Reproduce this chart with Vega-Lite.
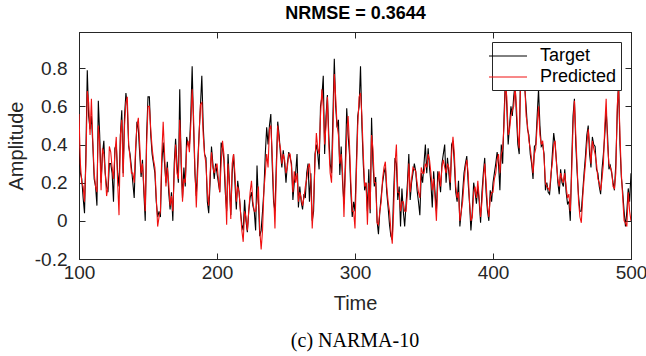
{
"$schema": "https://vega.github.io/schema/vega-lite/v6.json",
"autosize": "none",
"padding": {"left": 79, "top": 32, "right": 15, "bottom": 97},
"width": 552,
"height": 227,
"background": "white",
"config": {
  "font": "Liberation Sans",
  "view": {"stroke": "#262626", "strokeWidth": 1},
  "axis": {"grid": false, "domainColor": "#262626", "tickColor": "#262626", "labelColor": "#262626", "titleColor": "#262626", "labelFont": "Liberation Sans", "titleFont": "Liberation Sans", "labelFontSize": 19, "titleFontSize": 20, "titleFontWeight": "normal", "tickSize": -6, "domainWidth": 1, "tickWidth": 1, "labelFlush": false, "labelOverlap": false}
},
"title": {"text": "(c) NARMA-10", "orient": "bottom", "font": "Liberation Serif", "fontSize": 20, "fontWeight": "normal", "color": "#000000", "anchor": "middle", "frame": "group", "offset": 18},
"data": {"values": [
{"t":100,"Target":0.38,"Predicted":0.56},{"t":101,"Target":0.25,"Predicted":0.30},{"t":102,"Target":0.22,"Predicted":0.20},{"t":103,"Target":0.12,"Predicted":0.18},{"t":104,"Target":0.04,"Predicted":0.10},{"t":105,"Target":0.35,"Predicted":0.30},{"t":106,"Target":0.79,"Predicted":0.68},{"t":107,"Target":0.55,"Predicted":0.62},{"t":108,"Target":0.48,"Predicted":0.45},{"t":109,"Target":0.55,"Predicted":0.64},
{"t":110,"Target":0.40,"Predicted":0.42},{"t":111,"Target":0.22,"Predicted":0.25},{"t":112,"Target":0.18,"Predicted":0.18},{"t":113,"Target":0.08,"Predicted":0.15},{"t":114,"Target":0.63,"Predicted":0.50},{"t":115,"Target":0.45,"Predicted":0.40},{"t":116,"Target":0.20,"Predicted":0.16},{"t":117,"Target":0.35,"Predicted":0.38},{"t":118,"Target":0.42,"Predicted":0.35},{"t":119,"Target":0.25,"Predicted":0.25},
{"t":120,"Target":0.18,"Predicted":0.13},{"t":121,"Target":0.15,"Predicted":0.18},{"t":122,"Target":0.30,"Predicted":0.39},{"t":123,"Target":0.30,"Predicted":0.36},{"t":124,"Target":0.25,"Predicted":0.28},{"t":125,"Target":0.10,"Predicted":0.22},{"t":126,"Target":0.38,"Predicted":0.35},{"t":127,"Target":0.40,"Predicted":0.44},{"t":128,"Target":0.25,"Predicted":0.20},{"t":129,"Target":0.18,"Predicted":0.03},
{"t":130,"Target":0.45,"Predicted":0.45},{"t":131,"Target":0.58,"Predicted":0.53},{"t":132,"Target":0.25,"Predicted":0.23},{"t":133,"Target":0.55,"Predicted":0.50},{"t":134,"Target":0.67,"Predicted":0.62},{"t":135,"Target":0.60,"Predicted":0.65},{"t":136,"Target":0.39,"Predicted":0.40},{"t":137,"Target":0.35,"Predicted":0.33},{"t":138,"Target":0.28,"Predicted":0.25},{"t":139,"Target":0.20,"Predicted":0.25},
{"t":140,"Target":0.12,"Predicted":0.20},{"t":141,"Target":0.35,"Predicted":0.38},{"t":142,"Target":0.52,"Predicted":0.50},{"t":143,"Target":0.48,"Predicted":0.54},{"t":144,"Target":0.35,"Predicted":0.40},{"t":145,"Target":0.23,"Predicted":0.25},{"t":146,"Target":0.32,"Predicted":0.30},{"t":147,"Target":0.15,"Predicted":0.18},{"t":148,"Target":0.00,"Predicted":0.05},{"t":149,"Target":0.45,"Predicted":0.40},
{"t":150,"Target":0.65,"Predicted":0.60},{"t":151,"Target":0.65,"Predicted":0.60},{"t":152,"Target":0.45,"Predicted":0.48},{"t":153,"Target":0.35,"Predicted":0.38},{"t":154,"Target":0.30,"Predicted":0.32},{"t":155,"Target":0.25,"Predicted":0.28},{"t":156,"Target":0.10,"Predicted":0.12},{"t":157,"Target":0.02,"Predicted":-0.03},{"t":158,"Target":0.05,"Predicted":0.02},{"t":159,"Target":0.02,"Predicted":0.05},
{"t":160,"Target":0.30,"Predicted":0.35},{"t":161,"Target":0.41,"Predicted":0.52},{"t":162,"Target":0.30,"Predicted":0.35},{"t":163,"Target":0.20,"Predicted":0.18},{"t":164,"Target":0.31,"Predicted":0.28},{"t":165,"Target":0.15,"Predicted":0.20},{"t":166,"Target":0.06,"Predicted":0.08},{"t":167,"Target":0.15,"Predicted":0.13},{"t":168,"Target":0.00,"Predicted":0.05},{"t":169,"Target":0.30,"Predicted":0.25},
{"t":170,"Target":0.43,"Predicted":0.40},{"t":171,"Target":0.30,"Predicted":0.25},{"t":172,"Target":0.20,"Predicted":0.22},{"t":173,"Target":0.69,"Predicted":0.53},{"t":174,"Target":0.30,"Predicted":0.35},{"t":175,"Target":0.12,"Predicted":0.10},{"t":176,"Target":0.28,"Predicted":0.22},{"t":177,"Target":0.18,"Predicted":0.20},{"t":178,"Target":0.44,"Predicted":0.38},{"t":179,"Target":0.40,"Predicted":0.42},
{"t":180,"Target":0.39,"Predicted":0.36},{"t":181,"Target":0.55,"Predicted":0.50},{"t":182,"Target":0.81,"Predicted":0.69},{"t":183,"Target":0.50,"Predicted":0.55},{"t":184,"Target":0.25,"Predicted":0.28},{"t":185,"Target":0.13,"Predicted":0.07},{"t":186,"Target":0.30,"Predicted":0.25},{"t":187,"Target":0.45,"Predicted":0.45},{"t":188,"Target":0.60,"Predicted":0.61},{"t":189,"Target":0.76,"Predicted":0.62},
{"t":190,"Target":0.50,"Predicted":0.45},{"t":191,"Target":0.35,"Predicted":0.35},{"t":192,"Target":0.33,"Predicted":0.30},{"t":193,"Target":0.10,"Predicted":0.15},{"t":194,"Target":0.04,"Predicted":0.08},{"t":195,"Target":0.20,"Predicted":0.25},{"t":196,"Target":0.39,"Predicted":0.36},{"t":197,"Target":0.30,"Predicted":0.28},{"t":198,"Target":0.22,"Predicted":0.25},{"t":199,"Target":0.30,"Predicted":0.28},
{"t":200,"Target":0.25,"Predicted":0.30},{"t":201,"Target":0.20,"Predicted":0.22},{"t":202,"Target":0.15,"Predicted":0.15},{"t":203,"Target":0.41,"Predicted":0.30},{"t":204,"Target":0.38,"Predicted":0.42},{"t":205,"Target":0.32,"Predicted":0.35},{"t":206,"Target":0.15,"Predicted":0.20},{"t":207,"Target":0.05,"Predicted":-0.02},{"t":208,"Target":0.35,"Predicted":0.30},{"t":209,"Target":0.20,"Predicted":0.18},
{"t":210,"Target":0.03,"Predicted":0.01},{"t":211,"Target":0.25,"Predicted":0.30},{"t":212,"Target":0.35,"Predicted":0.35},{"t":213,"Target":0.20,"Predicted":0.25},{"t":214,"Target":0.06,"Predicted":0.10},{"t":215,"Target":0.21,"Predicted":0.18},{"t":216,"Target":0.15,"Predicted":0.15},{"t":217,"Target":0.05,"Predicted":0.05},{"t":218,"Target":-0.02,"Predicted":-0.05},{"t":219,"Target":-0.05,"Predicted":-0.11},
{"t":220,"Target":0.11,"Predicted":0.05},{"t":221,"Target":0.00,"Predicted":0.02},{"t":222,"Target":-0.06,"Predicted":-0.05},{"t":223,"Target":0.05,"Predicted":0.05},{"t":224,"Target":0.12,"Predicted":0.15},{"t":225,"Target":0.15,"Predicted":0.21},{"t":226,"Target":0.08,"Predicted":0.10},{"t":227,"Target":0.05,"Predicted":0.05},{"t":228,"Target":-0.05,"Predicted":0.05},{"t":229,"Target":0.29,"Predicted":0.10},
{"t":230,"Target":0.10,"Predicted":0.18},{"t":231,"Target":-0.08,"Predicted":-0.05},{"t":232,"Target":-0.05,"Predicted":-0.15},{"t":233,"Target":0.05,"Predicted":-0.05},{"t":234,"Target":0.16,"Predicted":0.16},{"t":235,"Target":0.35,"Predicted":0.25},{"t":236,"Target":0.49,"Predicted":0.35},{"t":237,"Target":0.40,"Predicted":0.28},{"t":238,"Target":0.50,"Predicted":0.48},{"t":239,"Target":0.56,"Predicted":0.50},
{"t":240,"Target":0.30,"Predicted":0.35},{"t":241,"Target":0.10,"Predicted":0.15},{"t":242,"Target":0.05,"Predicted":-0.04},{"t":243,"Target":0.30,"Predicted":0.25},{"t":244,"Target":0.52,"Predicted":0.50},{"t":245,"Target":0.45,"Predicted":0.42},{"t":246,"Target":0.35,"Predicted":0.38},{"t":247,"Target":0.28,"Predicted":0.30},{"t":248,"Target":0.37,"Predicted":0.35},{"t":249,"Target":0.30,"Predicted":0.32},
{"t":250,"Target":0.20,"Predicted":0.25},{"t":251,"Target":0.30,"Predicted":0.28},{"t":252,"Target":0.36,"Predicted":0.35},{"t":253,"Target":0.33,"Predicted":0.35},{"t":254,"Target":0.30,"Predicted":0.28},{"t":255,"Target":0.11,"Predicted":0.15},{"t":256,"Target":0.20,"Predicted":0.26},{"t":257,"Target":0.25,"Predicted":0.20},{"t":258,"Target":0.35,"Predicted":0.25},{"t":259,"Target":0.07,"Predicted":0.10},
{"t":260,"Target":0.18,"Predicted":0.15},{"t":261,"Target":0.10,"Predicted":0.12},{"t":262,"Target":0.06,"Predicted":0.08},{"t":263,"Target":0.14,"Predicted":0.12},{"t":264,"Target":0.12,"Predicted":0.18},{"t":265,"Target":0.25,"Predicted":0.22},{"t":266,"Target":0.30,"Predicted":0.28},{"t":267,"Target":0.10,"Predicted":0.30},{"t":268,"Target":0.25,"Predicted":0.20},{"t":269,"Target":0.00,"Predicted":-0.04},
{"t":270,"Target":0.05,"Predicted":0.10},{"t":271,"Target":0.35,"Predicted":0.30},{"t":272,"Target":0.40,"Predicted":0.46},{"t":273,"Target":0.35,"Predicted":0.38},{"t":274,"Target":0.27,"Predicted":0.35},{"t":275,"Target":0.60,"Predicted":0.55},{"t":276,"Target":0.65,"Predicted":0.69},{"t":277,"Target":0.76,"Predicted":0.60},{"t":278,"Target":0.35,"Predicted":0.40},{"t":279,"Target":0.55,"Predicted":0.50},
{"t":280,"Target":0.66,"Predicted":0.65},{"t":281,"Target":0.45,"Predicted":0.40},{"t":282,"Target":0.30,"Predicted":0.25},{"t":283,"Target":0.25,"Predicted":0.20},{"t":284,"Target":0.55,"Predicted":0.45},{"t":285,"Target":0.85,"Predicted":0.77},{"t":286,"Target":0.60,"Predicted":0.65},{"t":287,"Target":0.49,"Predicted":0.50},{"t":288,"Target":0.53,"Predicted":0.45},{"t":289,"Target":0.24,"Predicted":0.30},
{"t":290,"Target":0.39,"Predicted":0.35},{"t":291,"Target":0.20,"Predicted":0.25},{"t":292,"Target":0.09,"Predicted":0.02},{"t":293,"Target":0.30,"Predicted":0.25},{"t":294,"Target":0.59,"Predicted":0.45},{"t":295,"Target":0.45,"Predicted":0.55},{"t":296,"Target":0.35,"Predicted":0.40},{"t":297,"Target":0.15,"Predicted":0.20},{"t":298,"Target":0.02,"Predicted":0.05},{"t":299,"Target":0.10,"Predicted":0.05},
{"t":300,"Target":0.05,"Predicted":-0.04},{"t":301,"Target":0.30,"Predicted":0.25},{"t":302,"Target":0.55,"Predicted":0.50},{"t":303,"Target":0.60,"Predicted":0.65},{"t":304,"Target":0.81,"Predicted":0.67},{"t":305,"Target":0.50,"Predicted":0.55},{"t":306,"Target":0.30,"Predicted":0.35},{"t":307,"Target":0.16,"Predicted":0.18},{"t":308,"Target":0.20,"Predicted":0.20},{"t":309,"Target":0.05,"Predicted":-0.02},
{"t":310,"Target":0.27,"Predicted":0.20},{"t":311,"Target":0.04,"Predicted":0.06},{"t":312,"Target":0.54,"Predicted":0.45},{"t":313,"Target":0.30,"Predicted":0.38},{"t":314,"Target":0.18,"Predicted":0.20},{"t":315,"Target":0.23,"Predicted":0.20},{"t":316,"Target":0.00,"Predicted":-0.01},{"t":317,"Target":-0.07,"Predicted":-0.02},{"t":318,"Target":0.05,"Predicted":0.05},{"t":319,"Target":0.13,"Predicted":0.10},
{"t":320,"Target":0.20,"Predicted":0.22},{"t":321,"Target":0.25,"Predicted":0.28},{"t":322,"Target":0.28,"Predicted":0.31},{"t":323,"Target":0.15,"Predicted":0.18},{"t":324,"Target":0.07,"Predicted":0.10},{"t":325,"Target":-0.02,"Predicted":0.05},{"t":326,"Target":-0.08,"Predicted":-0.05},{"t":327,"Target":-0.10,"Predicted":-0.12},{"t":328,"Target":0.15,"Predicted":0.05},{"t":329,"Target":0.33,"Predicted":0.30},
{"t":330,"Target":0.30,"Predicted":0.40},{"t":331,"Target":0.11,"Predicted":0.15},{"t":332,"Target":0.18,"Predicted":0.15},{"t":333,"Target":-0.03,"Predicted":0.05},{"t":334,"Target":0.17,"Predicted":0.10},{"t":335,"Target":0.05,"Predicted":0.10},{"t":336,"Target":-0.03,"Predicted":0.05},{"t":337,"Target":0.09,"Predicted":0.05},{"t":338,"Target":0.20,"Predicted":0.15},{"t":339,"Target":0.35,"Predicted":0.30},
{"t":340,"Target":0.11,"Predicted":0.15},{"t":341,"Target":0.20,"Predicted":0.22},{"t":342,"Target":0.25,"Predicted":0.28},{"t":343,"Target":0.30,"Predicted":0.27},{"t":344,"Target":0.26,"Predicted":0.26},{"t":345,"Target":0.16,"Predicted":0.20},{"t":346,"Target":0.10,"Predicted":0.15},{"t":347,"Target":0.03,"Predicted":0.12},{"t":348,"Target":0.25,"Predicted":0.28},{"t":349,"Target":0.20,"Predicted":0.25},
{"t":350,"Target":0.30,"Predicted":0.25},{"t":351,"Target":0.40,"Predicted":0.30},{"t":352,"Target":0.25,"Predicted":0.28},{"t":353,"Target":0.38,"Predicted":0.35},{"t":354,"Target":0.28,"Predicted":0.32},{"t":355,"Target":0.20,"Predicted":0.25},{"t":356,"Target":0.07,"Predicted":0.16},{"t":357,"Target":0.26,"Predicted":0.22},{"t":358,"Target":0.15,"Predicted":0.12},{"t":359,"Target":0.05,"Predicted":0.00},
{"t":360,"Target":0.26,"Predicted":0.20},{"t":361,"Target":0.22,"Predicted":0.26},{"t":362,"Target":0.15,"Predicted":0.18},{"t":363,"Target":0.30,"Predicted":0.28},{"t":364,"Target":0.35,"Predicted":0.32},{"t":365,"Target":0.40,"Predicted":0.28},{"t":366,"Target":0.20,"Predicted":0.25},{"t":367,"Target":0.33,"Predicted":0.30},{"t":368,"Target":0.25,"Predicted":0.28},{"t":369,"Target":0.16,"Predicted":0.20},
{"t":370,"Target":0.40,"Predicted":0.35},{"t":371,"Target":0.42,"Predicted":0.44},{"t":372,"Target":0.30,"Predicted":0.35},{"t":373,"Target":0.15,"Predicted":0.18},{"t":374,"Target":0.10,"Predicted":0.12},{"t":375,"Target":0.21,"Predicted":0.15},{"t":376,"Target":-0.03,"Predicted":0.00},{"t":377,"Target":0.05,"Predicted":0.05},{"t":378,"Target":0.15,"Predicted":0.10},{"t":379,"Target":0.25,"Predicted":0.20},
{"t":380,"Target":0.30,"Predicted":0.28},{"t":381,"Target":0.34,"Predicted":0.32},{"t":382,"Target":0.20,"Predicted":0.25},{"t":383,"Target":0.09,"Predicted":0.10},{"t":384,"Target":-0.05,"Predicted":0.00},{"t":385,"Target":0.05,"Predicted":0.02},{"t":386,"Target":0.20,"Predicted":0.15},{"t":387,"Target":0.15,"Predicted":0.18},{"t":388,"Target":0.09,"Predicted":0.12},{"t":389,"Target":0.18,"Predicted":0.21},
{"t":390,"Target":0.10,"Predicted":0.12},{"t":391,"Target":-0.01,"Predicted":0.02},{"t":392,"Target":0.15,"Predicted":0.10},{"t":393,"Target":0.25,"Predicted":0.22},{"t":394,"Target":0.33,"Predicted":0.30},{"t":395,"Target":0.15,"Predicted":0.20},{"t":396,"Target":0.05,"Predicted":0.08},{"t":397,"Target":0.00,"Predicted":0.02},{"t":398,"Target":0.16,"Predicted":0.12},{"t":399,"Target":0.10,"Predicted":0.15},
{"t":400,"Target":0.20,"Predicted":0.15},{"t":401,"Target":0.25,"Predicted":0.22},{"t":402,"Target":0.30,"Predicted":0.25},{"t":403,"Target":0.36,"Predicted":0.32},{"t":404,"Target":0.30,"Predicted":0.35},{"t":405,"Target":0.16,"Predicted":0.25},{"t":406,"Target":0.40,"Predicted":0.35},{"t":407,"Target":0.30,"Predicted":0.38},{"t":408,"Target":0.55,"Predicted":0.50},{"t":409,"Target":0.75,"Predicted":0.72},
{"t":410,"Target":0.60,"Predicted":0.65},{"t":411,"Target":0.40,"Predicted":0.45},{"t":412,"Target":0.50,"Predicted":0.48},{"t":413,"Target":0.60,"Predicted":0.55},{"t":414,"Target":0.55,"Predicted":0.58},{"t":415,"Target":0.65,"Predicted":0.60},{"t":416,"Target":0.72,"Predicted":0.70},{"t":417,"Target":0.55,"Predicted":0.60},{"t":418,"Target":0.40,"Predicted":0.45},{"t":419,"Target":0.35,"Predicted":0.38},
{"t":420,"Target":0.80,"Predicted":0.75},{"t":421,"Target":0.70,"Predicted":0.72},{"t":422,"Target":0.78,"Predicted":0.75},{"t":423,"Target":0.70,"Predicted":0.72},{"t":424,"Target":0.60,"Predicted":0.55},{"t":425,"Target":0.48,"Predicted":0.50},{"t":426,"Target":0.45,"Predicted":0.42},{"t":427,"Target":0.35,"Predicted":0.38},{"t":428,"Target":0.30,"Predicted":0.32},{"t":429,"Target":0.22,"Predicted":0.25},
{"t":430,"Target":0.39,"Predicted":0.35},{"t":431,"Target":0.40,"Predicted":0.38},{"t":432,"Target":0.55,"Predicted":0.50},{"t":433,"Target":0.69,"Predicted":0.60},{"t":434,"Target":0.50,"Predicted":0.45},{"t":435,"Target":0.39,"Predicted":0.40},{"t":436,"Target":0.40,"Predicted":0.42},{"t":437,"Target":0.35,"Predicted":0.33},{"t":438,"Target":0.16,"Predicted":0.20},{"t":439,"Target":0.20,"Predicted":0.18},
{"t":440,"Target":0.15,"Predicted":0.17},{"t":441,"Target":0.14,"Predicted":0.16},{"t":442,"Target":0.23,"Predicted":0.25},{"t":443,"Target":0.35,"Predicted":0.30},{"t":444,"Target":0.46,"Predicted":0.40},{"t":445,"Target":0.40,"Predicted":0.42},{"t":446,"Target":0.31,"Predicted":0.30},{"t":447,"Target":0.20,"Predicted":0.22},{"t":448,"Target":0.14,"Predicted":0.18},{"t":449,"Target":0.27,"Predicted":0.25},
{"t":450,"Target":0.20,"Predicted":0.22},{"t":451,"Target":0.18,"Predicted":0.20},{"t":452,"Target":0.27,"Predicted":0.25},{"t":453,"Target":0.15,"Predicted":0.18},{"t":454,"Target":0.09,"Predicted":0.12},{"t":455,"Target":0.10,"Predicted":0.14},{"t":456,"Target":0.00,"Predicted":0.05},{"t":457,"Target":0.30,"Predicted":0.25},{"t":458,"Target":0.55,"Predicted":0.50},{"t":459,"Target":0.64,"Predicted":0.63},
{"t":460,"Target":0.40,"Predicted":0.45},{"t":461,"Target":0.25,"Predicted":0.28},{"t":462,"Target":0.13,"Predicted":0.10},{"t":463,"Target":0.05,"Predicted":0.02},{"t":464,"Target":0.05,"Predicted":-0.01},{"t":465,"Target":0.15,"Predicted":0.12},{"t":466,"Target":0.25,"Predicted":0.22},{"t":467,"Target":0.34,"Predicted":0.30},{"t":468,"Target":0.45,"Predicted":0.40},{"t":469,"Target":0.50,"Predicted":0.48},
{"t":470,"Target":0.35,"Predicted":0.40},{"t":471,"Target":0.28,"Predicted":0.30},{"t":472,"Target":0.44,"Predicted":0.42},{"t":473,"Target":0.40,"Predicted":0.38},{"t":474,"Target":0.39,"Predicted":0.35},{"t":475,"Target":0.27,"Predicted":0.30},{"t":476,"Target":0.25,"Predicted":0.22},{"t":477,"Target":0.18,"Predicted":0.20},{"t":478,"Target":0.14,"Predicted":0.16},{"t":479,"Target":0.27,"Predicted":0.22},
{"t":480,"Target":0.35,"Predicted":0.30},{"t":481,"Target":0.45,"Predicted":0.50},{"t":482,"Target":0.58,"Predicted":0.64},{"t":483,"Target":0.45,"Predicted":0.40},{"t":484,"Target":0.27,"Predicted":0.30},{"t":485,"Target":0.29,"Predicted":0.28},{"t":486,"Target":0.25,"Predicted":0.26},{"t":487,"Target":0.20,"Predicted":0.18},{"t":488,"Target":0.16,"Predicted":0.17},{"t":489,"Target":0.30,"Predicted":0.25},
{"t":490,"Target":0.55,"Predicted":0.60},{"t":491,"Target":0.74,"Predicted":0.70},{"t":492,"Target":0.40,"Predicted":0.45},{"t":493,"Target":0.23,"Predicted":0.25},{"t":494,"Target":0.15,"Predicted":0.12},{"t":495,"Target":0.05,"Predicted":0.00},{"t":496,"Target":-0.03,"Predicted":-0.01},{"t":497,"Target":0.05,"Predicted":-0.03},{"t":498,"Target":0.17,"Predicted":0.15},{"t":499,"Target":0.10,"Predicted":0.05},
{"t":500,"Target":0.25,"Predicted":0.00}
]},
"transform": [{"fold": ["Target", "Predicted"], "as": ["series", "value"]}],
"layer": [
  {
    "mark": {"type": "line", "strokeWidth": 1.1, "clip": true},
    "encoding": {
      "x": {"field": "t", "type": "quantitative", "scale": {"domain": [100, 500], "nice": false, "zero": false},
            "axis": {"values": [100, 200, 300, 400, 500], "title": "Time", "labelPadding": 10, "titlePadding": 11}},
      "y": {"field": "value", "type": "quantitative", "scale": {"domain": [-0.2, 0.99], "nice": false, "zero": false},
            "axis": {"values": [-0.2, 0, 0.2, 0.4, 0.6, 0.8], "labelExpr": "'' + datum.value", "title": "Amplitude", "labelPadding": 18, "titlePadding": 8}},
      "color": {"field": "series", "type": "nominal", "scale": {"domain": ["Target", "Predicted"], "range": ["#000000", "#f01010"]},
                "legend": {"title": null, "orient": "top-right", "offset": 10, "symbolType": "M-2,0L2,0", "symbolSize": 361, "symbolOffset": 2, "symbolStrokeWidth": 1, "labelFontSize": 18, "labelFont": "Liberation Sans", "labelColor": "#000000", "strokeColor": "#262626", "fillColor": "white", "padding": 4, "rowPadding": 2, "labelOffset": 22}},
      "order": {"field": "t", "type": "quantitative"}
    }
  },
  {
    "mark": {"type": "point", "opacity": 0},
    "encoding": {
      "x": {"field": "t", "type": "quantitative", "scale": {"domain": [100, 500], "nice": false, "zero": false},
            "axis": {"orient": "top", "values": [100, 200, 300, 400, 500], "labels": false, "title": "NRMSE = 0.3644", "titleFontWeight": "bold", "titleFontSize": 18, "titleColor": "#000000", "titlePadding": 9}},
      "y": {"field": "value", "type": "quantitative", "scale": {"domain": [-0.2, 0.99], "nice": false, "zero": false},
            "axis": {"orient": "right", "values": [-0.2, 0, 0.2, 0.4, 0.6, 0.8], "labels": false, "title": null}}
    }
  }
],
"resolve": {"axis": {"x": "independent", "y": "independent"}}
}
